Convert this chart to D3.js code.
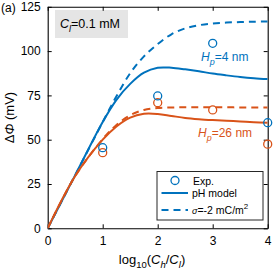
<!DOCTYPE html>
<html><head><meta charset="utf-8">
<script src="https://cdn.jsdelivr.net/npm/d3@7"></script>
<style>body{margin:0;background:#fff}svg{display:block;font-family:Arial,"Liberation Sans",sans-serif}</style>
</head><body>
<svg id="c" width="273" height="276"></svg>
<script>
const xTicks = [0, 1, 2, 3, 4];
const yTicks = [0, 25, 50, 75, 100, 125];
const curveX = [0, 0.5, 1, 1.25, 1.5, 1.75, 2, 2.25, 2.5, 2.75, 3, 3.25, 3.5, 3.75, 4];
const blueModel = [0, 30, 60, 72.5, 81.5, 87.8, 90.6, 90.6, 89.7, 88.6, 87.3, 86.3, 85.4, 84.7, 84.2];
const blueSigma = [0, 30, 60, 74.5, 87.5, 97, 104, 109.5, 112.8, 114.6, 115.6, 116.1, 116.4, 116.6, 116.7];
const orangeModel = [0, 29.5, 50, 57.5, 62.5, 64.6, 64.5, 63.4, 62.3, 61.6, 61.1, 60.7, 60.3, 59.9, 59.6];
const orangeSigma = [0, 29.5, 50.3, 58.3, 63.8, 66.8, 67.9, 68.2, 68.3, 68.3, 68.3, 68.3, 68.2, 68.2, 68.2];
const expX = [1, 2, 3, 4];
const blueExp = [45.5, 74.7, 104.4, 59.6];
const orangeExp = [42.7, 70.9, 66.8, 47.5];

const BLUE = "#0072BD", ORANGE = "#D95319";
const svg = d3.select("#c");
const L = 47.7, R = 267.7, T = 6.8, B = 228.3;
const x = d3.scaleLinear().domain([0, 4]).range([L, R]);
const y = d3.scaleLinear().domain([0, 125]).range([B, T]);

svg.append("clipPath").attr("id", "clip").append("rect")
  .attr("x", L).attr("y", T).attr("width", R - L).attr("height", B - T);

// annotation box
svg.append("rect").attr("x", 55).attr("y", 10).attr("width", 73).attr("height", 28).attr("fill", "#e5e5e5");
const ann = svg.append("text").attr("x", 60).attr("y", 27.5).attr("font-size", 12.5).attr("fill", "#000");
ann.append("tspan").attr("font-style", "italic").text("C");
ann.append("tspan").attr("font-style", "italic").attr("font-size", 9).attr("dy", 4).text("l");
ann.append("tspan").attr("dy", -4).text("=0.1 mM");

// axes
const fmt = d3.format("d");
const gx = svg.append("g").attr("transform", `translate(0,${B})`)
  .call(d3.axisBottom(x).tickValues(xTicks).tickFormat(fmt).tickSizeInner(-4).tickSizeOuter(0).tickPadding(8));
const gy = svg.append("g").attr("transform", `translate(${L},0)`)
  .call(d3.axisLeft(y).tickValues(yTicks).tickFormat(fmt).tickSizeInner(-4).tickSizeOuter(0).tickPadding(7));
const gxt = svg.append("g").attr("transform", `translate(0,${T})`)
  .call(d3.axisTop(x).tickValues(xTicks).tickFormat("").tickSizeInner(-4).tickSizeOuter(0));
const gyr = svg.append("g").attr("transform", `translate(${R},0)`)
  .call(d3.axisRight(y).tickValues(yTicks).tickFormat("").tickSizeInner(-4).tickSizeOuter(0));
[gx, gy, gxt, gyr].forEach(g => {
  g.selectAll("path.domain").attr("stroke", "#000").attr("stroke-width", 1.1);
  g.selectAll(".tick line").attr("stroke", "#000").attr("stroke-width", 1);
  g.selectAll("text").attr("font-size", 12).attr("fill", "#000").attr("font-family", "Arial, 'Liberation Sans', sans-serif");
});

// curves
const line = d3.line().x(d => x(d[0])).y(d => y(d[1])).curve(d3.curveCatmullRom.alpha(0.5));
const plot = svg.append("g").attr("clip-path", "url(#clip)");
function draw(vals, color, dashed) {
  plot.append("path").datum(curveX.map((v, i) => [v, vals[i]]))
    .attr("d", line).attr("fill", "none").attr("stroke", color).attr("stroke-width", 2)
    .attr("stroke-dasharray", dashed ? "7,5" : null);
}
draw(blueSigma, BLUE, true);
draw(blueModel, BLUE, false);
draw(orangeSigma, ORANGE, true);
draw(orangeModel, ORANGE, false);

function pts(vals, color) {
  svg.append("g").selectAll("circle").data(expX.map((v, i) => [v, vals[i]])).join("circle")
    .attr("cx", d => x(d[0])).attr("cy", d => y(d[1])).attr("r", 4)
    .attr("fill", "none").attr("stroke", color).attr("stroke-width", 1.3);
}
pts(orangeExp, ORANGE);
pts(blueExp, BLUE);

// curve labels
function hlabel(xp, yp, txt, color) {
  const t = svg.append("text").attr("x", xp).attr("y", yp).attr("font-size", 12).attr("fill", color);
  t.append("tspan").attr("font-style", "italic").text("H");
  t.append("tspan").attr("font-style", "italic").attr("font-size", 9).attr("dy", 4).text("p");
  t.append("tspan").attr("dy", -4).text(txt);
}
hlabel(201, 61, "=4 nm", BLUE);
hlabel(198, 137, "=26 nm", ORANGE);

// axis labels
const xl = svg.append("text").attr("x", 152).attr("y", 264).attr("text-anchor", "middle").attr("font-size", 13);
xl.append("tspan").text("log");
xl.append("tspan").attr("font-size", 9.5).attr("dy", 4).text("10");
xl.append("tspan").attr("dy", -4).text("(");
xl.append("tspan").attr("font-style", "italic").text("C");
xl.append("tspan").attr("font-style", "italic").attr("font-size", 9.5).attr("dy", 4).text("h");
xl.append("tspan").attr("dy", -4).text("/");
xl.append("tspan").attr("font-style", "italic").text("C");
xl.append("tspan").attr("font-style", "italic").attr("font-size", 9.5).attr("dy", 4).text("l");
xl.append("tspan").attr("dy", -4).text(")");

const yl = svg.append("text").attr("transform", `translate(14,${(T + B) / 2}) rotate(-90)`)
  .attr("text-anchor", "middle").attr("font-size", 13);
yl.append("tspan").text("Δ");
yl.append("tspan").attr("font-style", "italic").text("Φ");
yl.append("tspan").text("  (mV)");

svg.append("text").attr("x", 1).attr("y", 12).attr("font-size", 12).text("(a)");

// legend
const lg = svg.append("g");
lg.append("rect").attr("x", 157).attr("y", 171.5).attr("width", 106).attr("height", 48.5)
  .attr("fill", "#fff").attr("stroke", "#262626").attr("stroke-width", 1);
lg.append("circle").attr("cx", 175).attr("cy", 180.5).attr("r", 4).attr("fill", "none").attr("stroke", BLUE).attr("stroke-width", 1.3);
lg.append("line").attr("x1", 161.5).attr("x2", 188).attr("y1", 193).attr("y2", 193).attr("stroke", BLUE).attr("stroke-width", 2);
lg.append("line").attr("x1", 161.5).attr("x2", 188).attr("y1", 210).attr("y2", 210).attr("stroke", BLUE).attr("stroke-width", 2).attr("stroke-dasharray", "7,5");
lg.append("text").attr("x", 193).attr("y", 184.5).attr("font-size", 10.5).text("Exp.");
lg.append("text").attr("x", 192).attr("y", 197).attr("font-size", 10.5).text("pH model");
const sg = lg.append("text").attr("x", 192).attr("y", 214).attr("font-size", 10.5);
sg.append("tspan").attr("font-style", "italic").attr("font-size", 9).text("σ");
sg.append("tspan").text("=-2 mC/m");
sg.append("tspan").attr("font-size", 8).attr("dy", -5).text("2");
</script>
</body></html>
